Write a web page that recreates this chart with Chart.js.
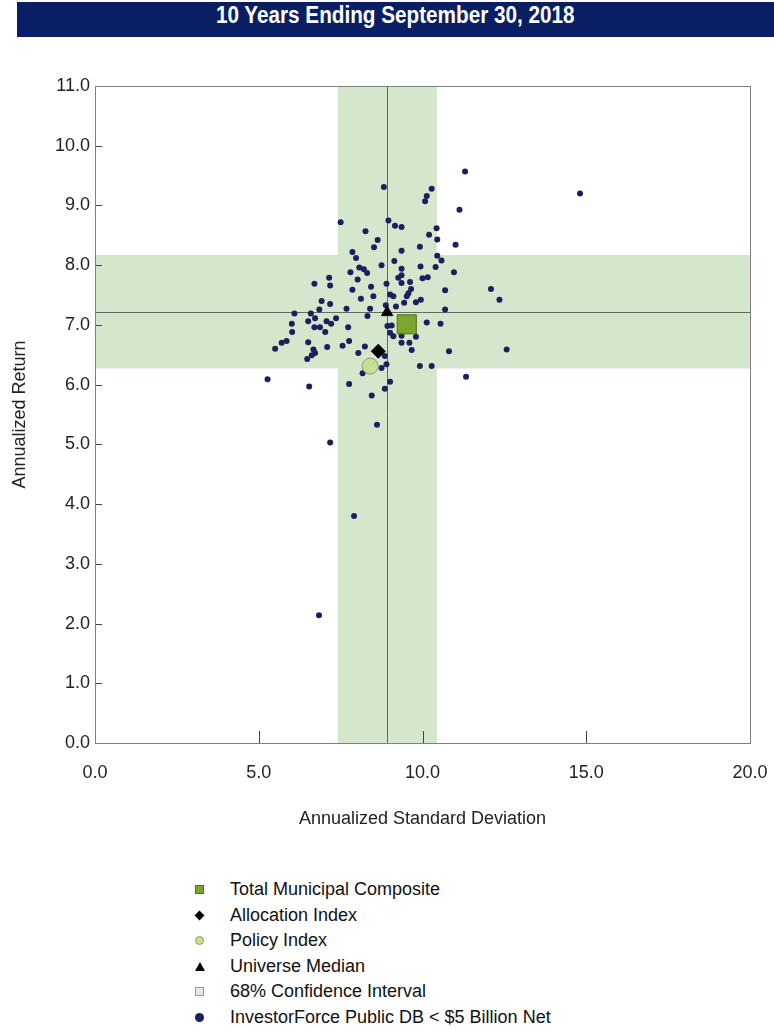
<!DOCTYPE html>
<html>
<head>
<meta charset="utf-8">
<script src="https://cdn.jsdelivr.net/npm/chart.js@4.4.1/dist/chart.umd.min.js"></script>
<style>
  body { margin: 0; width: 774px; height: 1030px; background: #fff; position: relative; overflow: hidden; }
  #title {
    position: absolute; left: 17px; top: 2px; width: 757px; height: 35px;
    background: #0a1f63; color: #fff; text-align: center; line-height: 35px;
    font: bold 23px "Liberation Sans", Arial, sans-serif;
  }
  #title span { display: inline-block; transform: scaleX(0.9); }
  #wrap { position: absolute; left: 0; top: 0; width: 774px; height: 850px; }
  #legend {
    position: absolute; left: 192px; top: 877px; list-style: none; margin: 0; padding: 0;
    font: 18px "Liberation Sans", Arial, sans-serif; color: #111;
  }
  #legend li { height: 25.5px; line-height: 25.5px; position: relative; padding-left: 38px; white-space: nowrap; }
  #legend .mk { position: absolute; left: 3px; top: 8px; width: 9px; height: 9px; box-sizing: border-box; }
</style>
</head>
<body>
<div id="title"><span>10 Years Ending September 30, 2018</span></div>
<div id="wrap"><canvas id="rrChart" width="774" height="850"></canvas></div>
<ul id="legend"></ul>

<script>
// universe: InvestorForce Public DB < $5 Billion Net (std dev, return)
const univX = [
  11.30, 14.81, 10.28, 10.13, 10.08, 11.13, 10.43, 10.20, 10.45, 9.36,
  9.92, 11.01, 9.36, 10.45, 10.58, 10.40, 9.94, 10.96, 9.36, 9.36,
  10.00, 10.16, 9.62, 9.36, 12.09, 12.35, 10.69, 9.65, 9.57, 9.52,
  9.44, 9.80, 9.95, 10.69, 10.13, 10.55, 9.80, 9.36, 9.60, 9.67,
  10.81, 12.57, 9.92, 10.28, 11.33, 8.82, 7.50, 8.96, 9.16, 8.26,
  8.63, 8.52, 7.86, 7.97, 8.75, 9.14, 8.07, 8.21, 8.31, 7.80,
  7.15, 8.02, 9.26, 6.70, 7.18, 8.90, 8.43, 7.86, 9.01, 9.11,
  8.12, 8.50, 6.92, 7.18, 7.68, 8.40, 8.88, 9.19, 6.09, 6.59,
  6.51, 6.72, 7.07, 7.21, 7.36, 8.32, 6.01, 6.70, 6.87, 7.73,
  6.02, 7.03, 8.93, 9.06, 9.01, 9.11, 9.36, 5.85, 5.70, 6.51,
  7.09, 7.56, 7.76, 8.24, 5.50, 6.67, 6.72, 6.62, 6.48, 8.04,
  8.85, 8.90, 8.75, 8.17, 5.27, 6.54, 7.76, 8.45, 8.85, 9.01,
  6.84, 7.91, 7.18, 8.61, 6.85
];
const univY = [
  9.57, 9.20, 9.28, 9.16, 9.07, 8.93, 8.62, 8.51, 8.43, 8.64,
  8.31, 8.34, 8.24, 8.16, 8.08, 7.97, 7.98, 7.88, 7.94, 7.83,
  7.78, 7.80, 7.72, 7.70, 7.60, 7.42, 7.58, 7.60, 7.53, 7.48,
  7.37, 7.38, 7.42, 7.26, 7.04, 7.02, 6.80, 6.70, 6.70, 6.58,
  6.56, 6.59, 6.31, 6.31, 6.13, 9.31, 8.72, 8.75, 8.66, 8.57,
  8.42, 8.30, 8.22, 8.12, 8.00, 8.07, 7.96, 7.93, 7.87, 7.88,
  7.79, 7.76, 7.79, 7.69, 7.66, 7.69, 7.64, 7.59, 7.51, 7.48,
  7.44, 7.48, 7.40, 7.35, 7.27, 7.27, 7.33, 7.31, 7.19, 7.19,
  7.06, 7.11, 7.06, 7.02, 7.11, 7.15, 7.02, 6.96, 6.96, 6.96,
  6.88, 6.88, 6.98, 6.99, 6.87, 6.81, 6.82, 6.73, 6.70, 6.71,
  6.63, 6.65, 6.73, 6.64, 6.60, 6.59, 6.53, 6.49, 6.43, 6.53,
  6.48, 6.34, 6.28, 6.19, 6.09, 5.97, 6.01, 5.82, 5.93, 6.05,
  2.14, 3.80, 5.03, 5.33, 7.26
];

const composite = { x: 9.52, y: 7.01 };   // Total Municipal Composite
const allocation = { x: 8.65, y: 6.56 };  // Allocation Index
const policy = { x: 8.40, y: 6.31 };      // Policy Index
const median = { x: 8.92, y: 7.21 };      // Universe Median

// 68% confidence interval of the universe
const ciX = [7.42, 10.44];
const ciY = [6.27, 8.17];

const xTicks = [0, 5, 10, 15, 20];
const yTicks = [0, 1, 2, 3, 4, 5, 6, 7, 8, 9, 10, 11];

const legendItems = [
  "Total Municipal Composite",
  "Allocation Index",
  "Policy Index",
  "Universe Median",
  "68% Confidence Interval",
  "InvestorForce Public DB < $5 Billion Net",
];

const NAVY = "#1b1f5e";
const BAND = "#d4e7cd";
const LINE = "#666";
const FRAME = "#808080";
const sans = '"Liberation Sans", Arial, sans-serif';

const univPts = univX.map((x, i) => ({ x: x, y: univY[i] }));

// bands, median lines, frame and inward tick marks
const riskPlot = {
  id: "riskPlot",
  beforeDraw(chart) {
    const { ctx, chartArea: a, scales: { x, y } } = chart;
    ctx.save();
    ctx.fillStyle = BAND;
    const x0 = x.getPixelForValue(ciX[0]), x1 = x.getPixelForValue(ciX[1]);
    const y0 = y.getPixelForValue(ciY[1]), y1 = y.getPixelForValue(ciY[0]);
    ctx.fillRect(x0, a.top, x1 - x0, a.bottom - a.top);
    ctx.fillRect(a.left, y0, a.right - a.left, y1 - y0);
    ctx.restore();
  },
  beforeDatasetsDraw(chart) {
    const { ctx, chartArea: a, scales: { x, y } } = chart;
    ctx.save();
    ctx.strokeStyle = LINE;
    ctx.lineWidth = 1;
    const mx = Math.round(x.getPixelForValue(median.x)) + 0.5;
    const my = Math.round(y.getPixelForValue(median.y)) + 0.5;
    ctx.beginPath();
    ctx.moveTo(mx, a.top); ctx.lineTo(mx, a.bottom);
    ctx.moveTo(a.left, my); ctx.lineTo(a.right, my);
    ctx.stroke();

    // tick marks pointing into the plot
    ctx.strokeStyle = "#444";
    ctx.beginPath();
    xTicks.slice(1, -1).forEach(v => {
      const px = Math.round(x.getPixelForValue(v)) + 0.5;
      ctx.moveTo(px, a.bottom); ctx.lineTo(px, a.bottom - 12);
    });
    yTicks.slice(1, -1).forEach(v => {
      const py = Math.round(y.getPixelForValue(v)) + 0.5;
      ctx.moveTo(a.left, py); ctx.lineTo(a.left + 7, py);
    });
    ctx.stroke();

    ctx.strokeStyle = FRAME;
    ctx.strokeRect(Math.round(a.left) + 0.5, Math.round(a.top) + 0.5,
      Math.round(a.right - a.left), Math.round(a.bottom - a.top));
    ctx.restore();
  },
};

const ctx = document.getElementById("rrChart");
const chart = new Chart(ctx, {
  type: "scatter",
  data: {
    datasets: [
      { label: legendItems[0], data: [composite], pointStyle: "rect", radius: 13.5,
        backgroundColor: "#7aa62b", borderColor: "#55701f", borderWidth: 1 },
      { label: legendItems[1], data: [allocation], pointStyle: "rectRot", radius: 7,
        backgroundColor: "#000", borderColor: "#000", borderWidth: 1 },
      { label: legendItems[2], data: [policy], pointStyle: "circle", radius: 8,
        backgroundColor: "#c8de96", borderColor: "#8aa060", borderWidth: 1 },
      { label: legendItems[3], data: [median], pointStyle: "triangle", radius: 6.5,
        backgroundColor: "#000", borderColor: "#000", borderWidth: 1 },
      { label: legendItems[5], data: univPts, pointStyle: "circle", radius: 3,
        backgroundColor: NAVY, borderColor: NAVY, borderWidth: 0 },
    ],
  },
  options: {
    responsive: false,
    animation: false,
    events: [],
    layout: { padding: { top: 86, right: 24, left: 0, bottom: 0 } },
    plugins: {
      legend: { display: false },
      tooltip: { enabled: false },
    },
    scales: {
      x: {
        type: "linear", min: 0, max: 20,
        afterBuildTicks: s => { s.ticks = xTicks.map(v => ({ value: v })); },
        afterFit: s => { s.height = 107; s.paddingLeft = 0; s.paddingRight = 0; },
        grid: { display: false, drawTicks: false },
        border: { display: false },
        ticks: { padding: 19, color: "#222", font: { family: sans, size: 18 },
          callback: v => v.toFixed(1), maxRotation: 0 },
        title: { display: true, text: "Annualized Standard Deviation", color: "#222",
          font: { family: sans, size: 18 }, padding: { top: 0, bottom: 20 } },
      },
      y: {
        type: "linear", min: 0, max: 11,
        afterBuildTicks: s => { s.ticks = yTicks.map(v => ({ value: v })); },
        afterFit: s => { s.width = 95; s.paddingTop = 0; s.paddingBottom = 0; },
        grid: { display: false, drawTicks: false },
        border: { display: false },
        ticks: { padding: 5, color: "#222", font: { family: sans, size: 18 },
          callback: v => v.toFixed(1) },
        title: { display: true, text: "Annualized Return", color: "#222",
          font: { family: sans, size: 18 }, padding: { top: 9, bottom: 0 } },
      },
    },
  },
  plugins: [riskPlot],
});

// legend, one item per line
const markStyles = [
  "background:#7aa62b;border:1px solid #55701f;",
  "background:#000;width:7px;height:7px;left:4px;top:9px;transform:rotate(45deg);",
  "background:#c8de96;border:1px solid #8aa060;border-radius:50%;",
  "width:0;height:0;border-left:5px solid transparent;border-right:5px solid transparent;border-bottom:9px solid #000;",
  "background:#e6e6e6;border:1px solid #999;",
  "background:" + NAVY + ";border-radius:50%;",
];
const legendEl = document.getElementById("legend");
legendItems.forEach((txt, i) => {
  const li = document.createElement("li");
  const mk = document.createElement("span");
  mk.className = "mk";
  mk.style.cssText = markStyles[i];
  li.appendChild(mk);
  li.appendChild(document.createTextNode(txt));
  legendEl.appendChild(li);
});
</script>
</body>
</html>
